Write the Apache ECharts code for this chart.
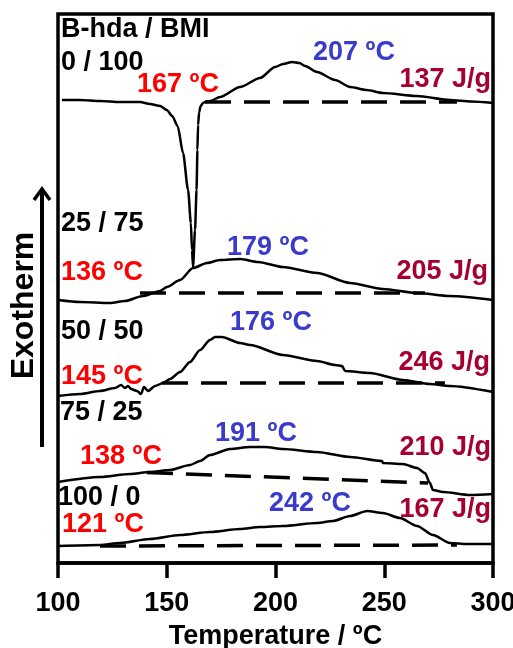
<!DOCTYPE html>
<html>
<head>
<meta charset="utf-8">
<script src="https://cdn.jsdelivr.net/npm/echarts@6/dist/echarts.min.js"></script>
<style>
  html, body { margin: 0; padding: 0; background: #fff; }
  #chart { width: 513px; height: 648px; }
</style>
</head>
<body>
<div id="chart"></div>
<script>
// DSC curves, B-hda / BMI blends (temperature in ºC, heat flow in arbitrary units, offset per curve)
const s0_100 = [[101.8,463],[110,463],[119.3,462],[128.5,461],[137.7,461],[142.3,459],[147,457],[150,453],[152.5,447],
  [155,437],[157.5,410],[159.8,373],[161.1,340],[161.6,313],[162.1,296],[163,333],[163.7,373],[164.1,413],[164.4,438],[164.9,451],
  [165.6,457],[166.7,460],[167.6,461],[169.9,462],[174.5,466],[183.7,476],[192.9,485],[199.8,496],[203.5,499],[207.6,501],[211,500],
  [213.6,497],[219.1,491],[227.4,483],[234.3,476],[241.9,473],[249.4,470],[265.1,467],[280.2,463],[290,461.5],[300,460]];
const s25_75 = [[100,263],[110.1,261],[123.9,260],[130.8,262],[139,267],[146.9,272],[150.1,276],[156.1,283],[162.1,295],
  [168.5,300],[174.5,303],[183.7,304],[192,301],[203.4,296],[219.1,290],[234.3,280],[249.4,274],[265.1,270],[280.2,267],[300,263]];
const s50_50 = [[100,167],[110.1,169],[119.3,172],[126.2,175],[129,178],[130.8,175],[132.2,177],[133.6,174],[136.3,172],
  [138.2,169],[139.5,176],[141.4,172],[144.6,177],[148.3,180],[151.5,184],[156.1,191],[160.7,201],[165.3,213],[169.9,223],
  [172.2,226],[175.4,226],[183.7,220],[188.3,218],[203.4,208],[219.1,202],[227.4,198],[230.6,197],[232,192],[243.4,190],
  [258.6,183],[271,179],[280.2,177],[300,171]];
const s75_25 = [[100,81],[119.3,86],[133.1,89],[142.3,91],[151.5,93],[160.7,98],[165.3,102],[169.9,108],[179.1,114],
  [188.3,116],[195.2,116],[203.4,114],[219.1,111],[234.3,106],[249,102],[249.4,100],[258.6,99],[265.1,95],[268.7,90],
  [271,80],[272.4,73],[277,71],[289.4,68],[300,69]];
const s100_0 = [[100,17],[119.3,18],[128.5,20],[142.3,24],[156.1,28],[169.9,31],[183.7,34],[192.9,36],[203.4,37],[219.1,40],
  [226.4,42],[234.3,47],[242.1,52],[249.4,50],[257.2,45],[265.1,37],[272.4,28],[280.2,20],[288,19],[300,19]];

// integration baselines
const base0_100 = [[167.6,461],[283.4,461]];
const base25_75 = [[137.7,270],[268.7,270]];
const base50_50 = [[147.8,180],[277.9,180]];
const base75_25 = [[140.9,90.5],[270.1,80]];
const base100_0 = [[119.3,17],[283.4,18]];

const xTicks = [100, 150, 200, 250, 300];

const ratioLabels = ['0 / 100', '25 / 75', '50 / 50', '75 / 25', '100 / 0'];
const onsetLabels = ['167 ºC', '136 ºC', '145 ºC', '138 ºC', '121 ºC'];
const peakLabels = ['207 ºC', '179 ºC', '176 ºC', '191 ºC', '242 ºC'];
const heatLabels = ['137 J/g', '205 J/g', '246 J/g', '210 J/g', '167 J/g'];

// where the annotation texts sit (pixels)
const ratioPos = [[61,63],[61,224],[61,332],[60,413],[58,497.5]];
const onsetPos = [[137,85],[61,272.5],[61,376.5],[80,457],[62,525]];
const peakPos = [[313,53],[227,248],[230,323],[215,434],[269,504]];
const heatPos = [[491,80],[488,272],[490,363],[491,448],[491,510]];

const FONT = 'Liberation Sans, Arial, Helvetica, sans-serif';
const RED = '#ff0000', BLUE = '#3a3acd', WINE = '#a50030';

function txt(s, pos, color, align) {
  return {
    type: 'text', x: pos[0], y: pos[1], z: 100,
    style: {
      text: s, fill: color, font: 'bold 27px ' + FONT,
      textAlign: align, textVerticalAlign: 'middle', align: align, verticalAlign: 'middle'
    }
  };
}

const graphics = [txt('B-hda / BMI', [61, 29.5], '#000', 'left')];
for (let i = 0; i < 5; i++) {
  graphics.push(txt(ratioLabels[i], ratioPos[i], '#000', 'left'));
  graphics.push(txt(onsetLabels[i], onsetPos[i], RED, 'left'));
  graphics.push(txt(peakLabels[i], peakPos[i], BLUE, 'left'));
  graphics.push(txt(heatLabels[i], heatPos[i], WINE, 'right'));
}
// Exotherm arrow
graphics.push({
  type: 'text', x: 24, y: 305.5, rotation: Math.PI / 2,
  style: { text: 'Exotherm', fill: '#000', font: 'bold 32px ' + FONT,
    textAlign: 'center', textVerticalAlign: 'middle', align: 'center', verticalAlign: 'middle' }
});
graphics.push({ type: 'line', shape: { x1: 42, y1: 447, x2: 42, y2: 190 }, style: { stroke: '#000', lineWidth: 4 } });
graphics.push({ type: 'polyline', shape: { points: [[34, 200], [42, 189], [50, 200]] }, style: { stroke: '#000', lineWidth: 3.5, fill: null } });

function curve(data) {
  return {
    type: 'line', data: data, showSymbol: false, smooth: 0.25, smoothMonotone: 'x',
    lineStyle: { color: '#000', width: 2.5 }, z: 3
  };
}
function baseline(data) {
  return {
    type: 'line', data: data, showSymbol: false,
    lineStyle: { color: '#000', width: 3.5, type: [26, 13] }, z: 2
  };
}

const chart = echarts.init(document.getElementById('chart'));
chart.setOption({
  animation: false,
  backgroundColor: '#fff',
  grid: {
    left: 58, right: 20, top: 14, bottom: 85, outerBoundsMode: 'none', containLabel: false,
    show: true, borderColor: '#000', borderWidth: 3.5
  },
  xAxis: {
    type: 'value', min: xTicks[0], max: xTicks[xTicks.length - 1], interval: 50,
    name: 'Temperature / ºC', nameLocation: 'middle', nameGap: 60,
    nameTextStyle: { color: '#000', fontSize: 27, fontWeight: 'bold', fontFamily: FONT },
    axisLine: { lineStyle: { color: '#000', width: 3.5 } },
    axisTick: { length: 15, lineStyle: { color: '#000', width: 3.5 } },
    axisLabel: { color: '#000', fontSize: 27, fontWeight: 'bold', fontFamily: FONT, margin: 27 },
    splitLine: { show: false }
  },
  yAxis: { type: 'value', min: 0, max: 549, show: false },
  series: [
    curve(s0_100), curve(s25_75), curve(s50_50), curve(s75_25), curve(s100_0),
    baseline(base0_100), baseline(base25_75), baseline(base50_50), baseline(base75_25), baseline(base100_0)
  ],
  graphic: graphics
});
</script>
</body>
</html>
